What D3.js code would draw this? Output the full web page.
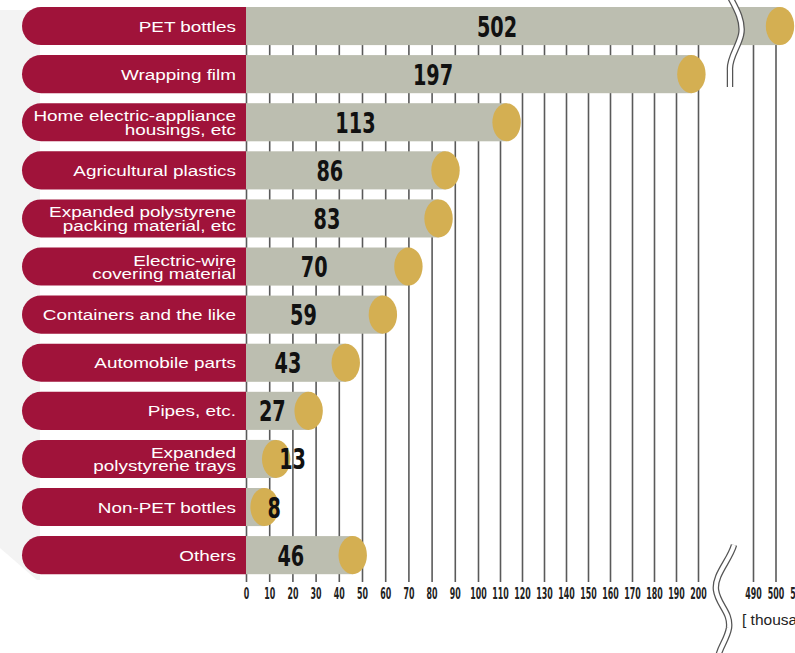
<!DOCTYPE html>
<html>
<head>
<meta charset="utf-8">
<script src="https://cdn.jsdelivr.net/npm/d3@7"></script>
<style>
  html, body { margin: 0; padding: 0; background: #fff; }
  svg { display: block; }
</style>
</head>
<body>
<div id="chart"></div>
<script>
// ---- data ----
const categories = [
  "PET bottles",
  "Wrapping film",
  "Home electric-appliance\nhousings, etc",
  "Agricultural plastics",
  "Expanded polystyrene\npacking material, etc",
  "Electric-wire\ncovering material",
  "Containers and the like",
  "Automobile parts",
  "Pipes, etc.",
  "Expanded\npolystyrene trays",
  "Non-PET bottles",
  "Others"
];
const values = [502, 197, 113, 86, 83, 70, 59, 43, 27, 13, 8, 46];
const mainTicks = d3.range(0, 201, 10);
const breakTicks = [490, 500, 510];
const unitLabel = "[ thousand tons ]";

// ---- layout ----
const W = 795, H = 653;
const svg = d3.select("#chart").append("svg").attr("width", W).attr("height", H);

const x = d3.scaleLinear().domain([0, 100, 200]).range([246, 478, 698]);
const xb = d3.scaleLinear().domain([490, 510]).range([753, 798]);
const xPos = v => v <= 200 ? x(v) : xb(v);

const y = d3.scaleBand().domain(categories).range([2, 2 + 12 * 48.1])
  .paddingInner(0.208).paddingOuter(0.104);
const bh = y.bandwidth();
const axisY = 582;
const topY = y(categories[0]);

const condFont = "'DejaVu Sans Condensed','DejaVu Sans',sans-serif";

// squeeze a text horizontally so each character takes `perChar` px
function squeeze(sel, perChar) {
  sel.each(function() {
    const t = d3.select(this);
    const len = this.getComputedTextLength();
    const n = (t.text() || "").length;
    const s = len > 0 ? (n * perChar) / len : 1;
    const prev = t.attr("data-base") || "";
    t.attr("transform", `${prev} scale(${s},1)`);
  });
}

// background panel
svg.append("path")
  .attr("d", `M0,10 L40,10 L40,580 L37,580 L0,548 Z`)
  .attr("fill", "#f3f3f3");

// grid lines + tick labels via axes
function styleAxis(g) {
  g.select(".domain").remove();
  g.selectAll(".tick line").attr("stroke", "#5a5a5a").attr("stroke-width", 1.6);
  g.selectAll(".tick text")
    .attr("fill", "#222")
    .style("font-family", condFont)
    .style("font-weight", "bold")
    .style("font-size", "15px")
    .call(squeeze, 5.5);
}
svg.append("g").attr("transform", `translate(0,${axisY})`)
  .call(d3.axisBottom(x).tickValues(mainTicks).tickSizeInner(-(axisY - topY)).tickSizeOuter(0).tickPadding(6).tickFormat(d3.format("d")))
  .call(styleAxis);
svg.append("g").attr("transform", `translate(0,${axisY})`)
  .call(d3.axisBottom(xb).tickValues(breakTicks).tickSizeInner(-(axisY - topY)).tickSizeOuter(0).tickPadding(6).tickFormat(d3.format("d")))
  .call(styleAxis);

// rows
const rows = svg.append("g").selectAll("g").data(categories).join("g")
  .attr("transform", d => `translate(0,${y(d)})`);

// crimson label pills
const pillL = 22, pillR = x(0), r = bh / 2;
rows.append("path")
  .attr("d", `M${pillL + r},0 L${pillR},0 L${pillR},${bh} L${pillL + r},${bh} A${r},${r} 0 0 1 ${pillL + r},0 Z`)
  .attr("fill", "#a0133a");

// gray bars
rows.append("rect")
  .attr("x", x(0))
  .attr("y", 0)
  .attr("width", (d, i) => xPos(values[i]) - x(0))
  .attr("height", bh)
  .attr("fill", "#bcbeb0");

// gold caps
rows.append("ellipse")
  .attr("cx", (d, i) => xPos(values[i]))
  .attr("cy", bh / 2)
  .attr("rx", 14.2)
  .attr("ry", bh / 2)
  .attr("fill", "#d4af52");

// category labels
rows.each(function(d) {
  const lines = d.split("\n");
  const t = d3.select(this).append("text")
    .attr("transform", `translate(236,0) scale(1.22,1)`)
    .attr("text-anchor", "end")
    .attr("fill", "#fff")
    .style("font-family", "'Liberation Sans', Arial, sans-serif")
    .style("font-size", "15.5px");
  if (lines.length === 1) {
    t.append("tspan").attr("x", 0).attr("y", bh / 2 + 5.5).text(lines[0]);
  } else {
    lines.forEach((ln, k) => {
      t.append("tspan").attr("x", 0).attr("y", bh / 2 - 1 + k * 13.5).text(ln);
    });
  }
});

// value labels
rows.append("text")
  .attr("data-base", (d, i) => {
    const v = values[i];
    const w = xPos(v) - x(0);
    const frac = v > 200 ? 0.47 : 0.42;
    const lx = v < 20 ? xPos(v) + 3 : x(0) + Math.max(frac * w, 24);
    return `translate(${lx},${bh / 2 + 10.5})`;
  })
  .attr("text-anchor", (d, i) => values[i] < 20 ? "start" : "middle")
  .attr("fill", "#111")
  .style("font-family", condFont)
  .style("font-weight", "bold")
  .style("font-size", "29px")
  .text((d, i) => values[i])
  .call(squeeze, 13.4);

// axis break marks
function breakMark(d) {
  svg.append("path").attr("d", d).attr("fill", "none")
    .attr("stroke", "#555").attr("stroke-width", 6.5);
  svg.append("path").attr("d", d).attr("fill", "none")
    .attr("stroke", "#fff").attr("stroke-width", 4);
}
breakMark("M730,-3 C736,8 744,22 741,35 C738,48 729,58 730,70 L730,87");
breakMark("M734,545 C730,560 714,575 716,590 C718,605 731,612 729,628 C727,640 719,648 718,658");

// unit label
svg.append("text")
  .attr("transform", "translate(742,625) scale(1.0,1)")
  .attr("fill", "#222")
  .style("font-family", "'Liberation Sans', Arial, sans-serif")
  .style("font-size", "15.5px")
  .text(unitLabel);
</script>
</body>
</html>
